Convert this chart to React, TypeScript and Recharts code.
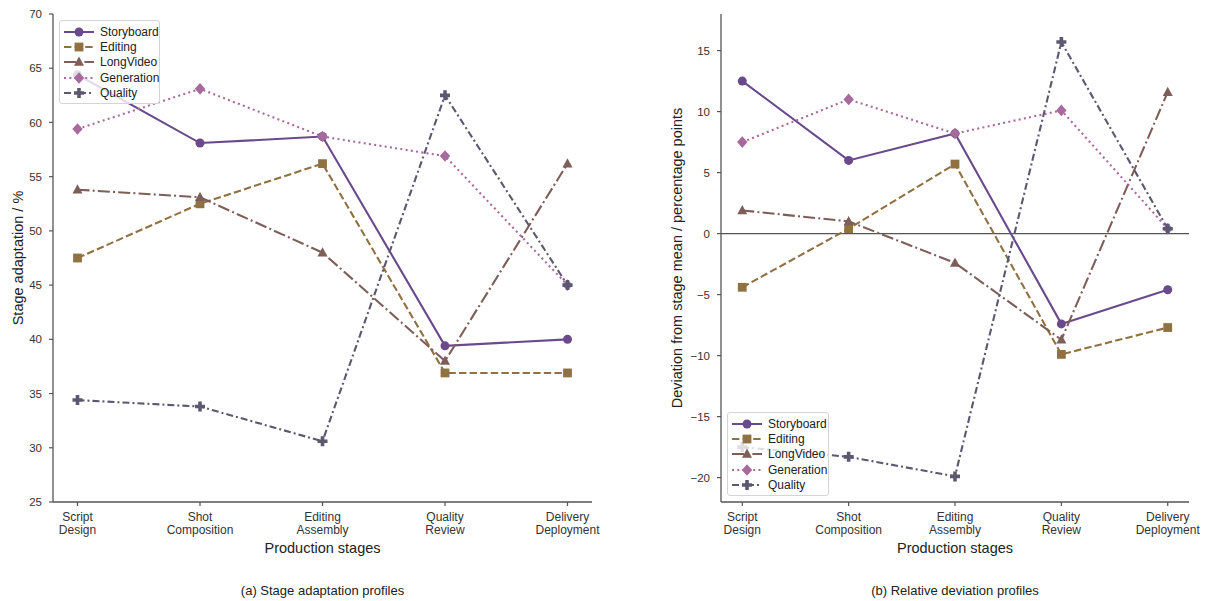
import { LineChart, Line, XAxis, YAxis, Legend, ReferenceLine } from "recharts"

const FONT = "'Liberation Sans', Arial, Helvetica, sans-serif"

const stages = ["Script Design", "Shot Composition", "Editing Assembly", "Quality Review", "Delivery Deployment"]
const seriesNames = ["Storyboard", "Editing", "LongVideo", "Generation", "Quality"]

// (a) stage adaptation, %
const adaptStoryboard = [64.4, 58.1, 58.7, 39.4, 40.0]
const adaptEditing = [47.5, 52.5, 56.2, 36.9, 36.9]
const adaptLongVideo = [53.8, 53.1, 48.0, 38.0, 56.2]
const adaptGeneration = [59.4, 63.1, 58.7, 56.9, 45.0]
const adaptQuality = [34.4, 33.8, 30.6, 62.5, 45.0]

// (b) deviation from stage mean, percentage points
const devStoryboard = [12.5, 6.0, 8.2, -7.4, -4.6]
const devEditing = [-4.4, 0.4, 5.7, -9.9, -7.7]
const devLongVideo = [1.9, 1.0, -2.4, -8.7, 11.6]
const devGeneration = [7.5, 11.0, 8.2, 10.1, 0.4]
const devQuality = [-17.5, -18.3, -19.9, 15.7, 0.4]

const adaptTicks = [25, 30, 35, 40, 45, 50, 55, 60, 65, 70]
const devTicks = [-20, -15, -10, -5, 0, 5, 10, 15]

const styles: Record<string, { color: string; dash?: string; marker: string }> = {
  Storyboard: { color: "#6a4a8c", marker: "circle" },
  Editing: { color: "#8f7142", dash: "7.4 3.2", marker: "square" },
  LongVideo: { color: "#7d5e58", dash: "12 3.2 2 3.2", marker: "triangle" },
  Generation: { color: "#a86a9c", dash: "2 3.3", marker: "diamond" },
  Quality: { color: "#5b586f", dash: "7 3 2 3", marker: "plus" },
}

function buildRows(cols: number[][]) {
  return stages.map((stage, i) => {
    const row: Record<string, any> = { stage }
    seriesNames.forEach((n, k) => (row[n] = cols[k][i]))
    return row
  })
}

const adaptData = buildRows([adaptStoryboard, adaptEditing, adaptLongVideo, adaptGeneration, adaptQuality])
const devData = buildRows([devStoryboard, devEditing, devLongVideo, devGeneration, devQuality])

function Marker({ shape, cx, cy, color }: { shape: string; cx: number; cy: number; color: string }) {
  if (shape === "circle") return <circle cx={cx} cy={cy} r={4.5} fill={color} />
  if (shape === "square") return <rect x={cx - 4.4} y={cy - 4.4} width={8.8} height={8.8} fill={color} />
  if (shape === "triangle")
    return <polygon points={`${cx},${cy - 5.4} ${cx + 5},${cy + 3.8} ${cx - 5},${cy + 3.8}`} fill={color} />
  if (shape === "diamond")
    return <polygon points={`${cx},${cy - 5.8} ${cx + 5.2},${cy} ${cx},${cy + 5.8} ${cx - 5.2},${cy}`} fill={color} />
  const a = 5
  const t = 1.8
  return (
    <path
      d={`M${cx - t},${cy - a}H${cx + t}V${cy - t}H${cx + a}V${cy + t}H${cx + t}V${cy + a}H${cx - t}V${cy + t}H${cx - a}V${cy - t}H${cx - t}Z`}
      fill={color}
    />
  )
}

function StageTick(props: any) {
  const { x, y, payload } = props
  const words = String(payload.value).split(" ")
  return (
    <text x={x} y={y} textAnchor="middle" fill="#333" fontSize={12} fontFamily={FONT}>
      <tspan x={x} dy={13}>{words[0]}</tspan>
      <tspan x={x} dy={12.5}>{words[1]}</tspan>
    </text>
  )
}

function LegendBox() {
  return (
    <div
      style={{
        background: "rgba(255,255,255,0.8)",
        border: "1px solid #d4d4d4",
        borderRadius: 3,
        padding: "3px 3px 3px 4px",
        fontFamily: FONT,
        fontSize: 12,
        color: "#222",
        boxSizing: "border-box",
      }}
    >
      {seriesNames.map((n) => {
        const s = styles[n]
        return (
          <div key={n} style={{ display: "flex", alignItems: "center", height: 15.3, whiteSpace: "nowrap" }}>
            <svg width={30} height={14} style={{ marginRight: 6, flex: "none" }}>
              <line x1={0} y1={7} x2={30} y2={7} stroke={s.color} strokeWidth={2} strokeDasharray={s.dash} />
              <Marker shape={s.marker} cx={15} cy={7} color={s.color} />
            </svg>
            <span>{n}</span>
          </div>
        )
      })}
    </div>
  )
}

function Panel(props: {
  left: number
  data: any[]
  domain: [number, number]
  ticks: number[]
  yAxisWidth: number
  marginRight: number
  ylabel: string
  ylabelX: number
  caption: string
  legendLeft: number
  legendTop: number
  legendWidth: number
  zero?: boolean
}) {
  const W = 607
  const plotLeft = props.yAxisWidth
  const plotRight = W - props.marginRight
  const cx = (plotLeft + plotRight) / 2
  return (
    <div style={{ position: "absolute", left: props.left, top: 0, width: W, height: 601 }}>
      <LineChart width={W} height={601} data={props.data} margin={{ top: 14, right: props.marginRight, bottom: 0, left: 0 }}>
        <XAxis
          dataKey="stage"
          interval={0}
          height={99}
          padding={{ left: (plotRight - plotLeft) / 22, right: (plotRight - plotLeft) / 22 }}
          axisLine={{ stroke: "#555", strokeWidth: 1.3 }}
          tickLine={{ stroke: "#555", strokeWidth: 1.2 }}
          tickSize={4}
          tick={<StageTick />}
        />
        <YAxis
          type="number"
          domain={props.domain}
          ticks={props.ticks}
          allowDataOverflow
          width={props.yAxisWidth}
          axisLine={{ stroke: "#555", strokeWidth: 1.3 }}
          tickLine={{ stroke: "#555", strokeWidth: 1.2 }}
          tickSize={4}
          tickMargin={7}
          tick={{ fill: "#333", fontSize: 11.5, fontFamily: FONT }}
          tickFormatter={(v: number) => String(v).replace("-", "\u2212")}
        />
        {props.zero && <ReferenceLine y={0} stroke="#555" strokeWidth={1.1} />}
        {seriesNames.map((n) => {
          const s = styles[n]
          return (
            <Line
              key={n}
              dataKey={n}
              type="linear"
              stroke={s.color}
              strokeWidth={2.1}
              strokeDasharray={s.dash}
              isAnimationActive={false}
              activeDot={false}
              dot={(p: any) => <Marker key={`${n}-${p.index}`} shape={s.marker} cx={p.cx} cy={p.cy} color={s.color} />}
            />
          )
        })}
        <Legend
          layout="horizontal"
          verticalAlign="middle"
          align="center"
          content={() => <LegendBox />}
          wrapperStyle={{ position: "absolute", left: props.legendLeft, top: props.legendTop, width: props.legendWidth, height: "auto" }}
        />
      </LineChart>
      <div
        style={{
          position: "absolute",
          left: props.ylabelX,
          top: 258,
          transform: "translate(-50%,-50%) rotate(-90deg)",
          whiteSpace: "nowrap",
          fontFamily: FONT,
          fontSize: 14.5,
          color: "#222",
        }}
      >
        {props.ylabel}
      </div>
      <div
        style={{
          position: "absolute",
          left: cx,
          top: 548,
          transform: "translate(-50%,-50%)",
          whiteSpace: "nowrap",
          fontFamily: FONT,
          fontSize: 14.5,
          color: "#222",
        }}
      >
        Production stages
      </div>
      <div
        style={{
          position: "absolute",
          left: cx,
          top: 590,
          transform: "translate(-50%,-50%)",
          whiteSpace: "nowrap",
          fontFamily: FONT,
          fontSize: 13,
          color: "#222",
        }}
      >
        {props.caption}
      </div>
    </div>
  )
}

export default function App() {
  return (
    <div style={{ position: "fixed", left: 0, top: 0, width: 1214, height: 601, background: "#fff", overflow: "hidden" }}>
      <Panel
        left={0}
        data={adaptData}
        domain={[25, 70]}
        ticks={adaptTicks}
        yAxisWidth={53}
        marginRight={15}
        ylabel="Stage adaptation / %"
        ylabelX={18}
        caption="(a) Stage adaptation profiles"
        legendLeft={59}
        legendTop={20}
        legendWidth={101}
      />
      <Panel
        left={607}
        data={devData}
        domain={[-22, 18]}
        ticks={devTicks}
        yAxisWidth={114}
        marginRight={25}
        ylabel="Deviation from stage mean / percentage points"
        ylabelX={70}
        caption="(b) Relative deviation profiles"
        legendLeft={120}
        legendTop={412}
        legendWidth={102}
        zero
      />
    </div>
  )
}
